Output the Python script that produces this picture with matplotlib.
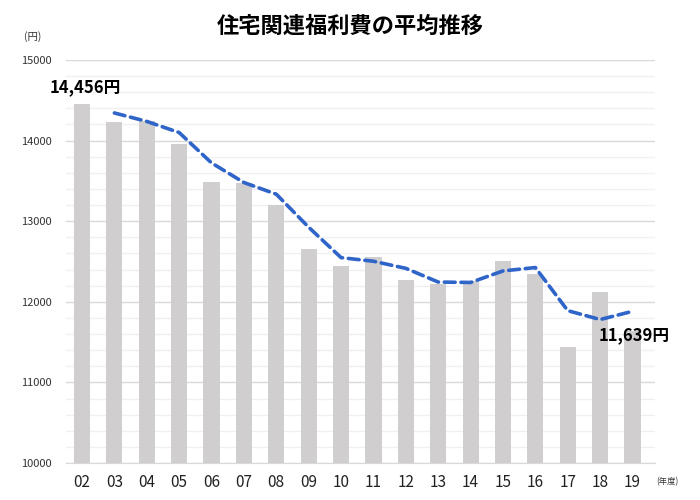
import matplotlib
matplotlib.use("Agg")
import matplotlib.pyplot as plt
from matplotlib.ticker import MultipleLocator

plt.rcParams['font.family'] = ['Noto Sans CJK JP', 'DejaVu Sans']

years = ["02", "03", "04", "05", "06", "07", "08", "09", "10",
         "11", "12", "13", "14", "15", "16", "17", "18", "19"]
costs = [14456, 14230, 14245, 13955, 13490, 13470, 13200, 12650, 12445,
         12560, 12270, 12220, 12260, 12505, 12345, 11435, 12125, 11639]
# 2-year moving average line (from 03)
avg_years = years[1:]
avg_vals = [14343, 14238, 14100, 13723, 13480, 13335, 12925, 12548,
            12503, 12415, 12245, 12240, 12383, 12425, 11890, 11780, 11882]

fig = plt.figure(figsize=(7, 5), dpi=100)
ax = fig.add_axes([0.094, 0.074, 0.842, 0.806])

x = list(range(len(years)))
ax.bar(x, costs, width=0.5, color="#d0cecf", zorder=2)
ax.plot(x[1:], avg_vals, color="#2f64c8", lw=2.6, ls=(0, (3, 1.6)),
        dash_capstyle="round", zorder=3)

ax.set_ylim(10000, 15000)
ax.set_xlim(-0.5, 17.7)
ax.yaxis.set_major_locator(MultipleLocator(1000))
ax.yaxis.set_minor_locator(MultipleLocator(200))
ax.grid(axis="y", which="major", color="#d9d9d9", lw=1, zorder=0)
ax.grid(axis="y", which="minor", color="#f0f0f0", lw=1, zorder=0)
ax.set_xticks(x)
ax.set_xticklabels(years, fontsize=11, color="#222222")
ax.tick_params(axis="x", length=0, pad=8)
ax.tick_params(axis="y", which="both", length=0, labelsize=8, colors="#333333", pad=10)
for s in ["top", "right", "left"]:
    ax.spines[s].set_visible(False)
ax.spines["bottom"].set_color("#d9d9d9")

fig.text(0.5, 0.948, "住宅関連福利費の平均推移", ha="center", va="center",
         fontsize=16, fontweight="bold")
fig.text(0.034, 0.926, "(円)", ha="left", va="center", fontsize=7.5, color="#333333")
fig.text(0.937, 0.036, "(年度)", ha="left", va="center", fontsize=6, color="#333333")

ax.annotate("14,456円", (0, costs[0]), xytext=(0.1, 14660), ha="center", va="center",
            fontsize=12, fontweight="bold")
ax.annotate("11,639円", (17, costs[-1]), xytext=(17.05, 11590), ha="center", va="center",
            fontsize=12, fontweight="bold")

fig.savefig("out.png", dpi=100)
